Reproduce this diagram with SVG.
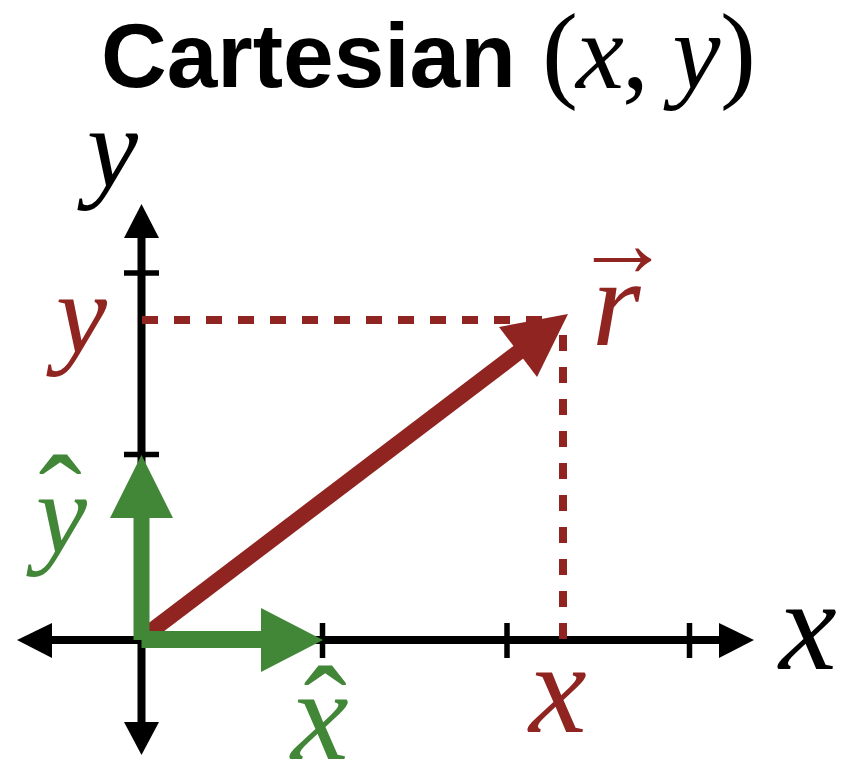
<svg xmlns="http://www.w3.org/2000/svg" width="842" height="760" viewBox="0 0 842 760">
<style>
.title{font-family:"Liberation Sans",Arial,sans-serif;font-weight:bold;font-size:91px;fill:#000}
.m{font-family:"Liberation Serif","Times New Roman",serif;font-style:italic}
.up{font-family:"Liberation Serif","Times New Roman",serif;font-style:normal}
.lx{font-size:130px}
.ly{font-size:115px}
.blk{fill:#000}
.red{fill:#902420}
.grn{fill:#428638}
.axis{stroke:#000;stroke-width:8;fill:none}
.tick{stroke:#000;stroke-width:5.5;fill:none}
.dash{stroke:#902420;stroke-width:8;stroke-dasharray:16 16;fill:none}
</style>
<rect width="842" height="760" fill="#fff"/>
<g id="title">
<text class="title" x="101" y="87">Cartesian</text>
<text class="up" font-size="108" y="87.5"><tspan x="542">(</tspan><tspan class="m" x="576">x</tspan><tspan x="622">,</tspan><tspan class="m" x="672.6">y</tspan><tspan x="720">)</tspan></text>
</g>
<g id="axes">
<line class="axis" x1="141.5" y1="236" x2="141.5" y2="724"/>
<line class="axis" x1="50" y1="640" x2="721" y2="640"/>
<polygon class="blk" points="141.5,204 124,238 159,238"/>
<polygon class="blk" points="141.5,755 124,722 159,722"/>
<polygon class="blk" points="17,640 52,623 52,658"/>
<polygon class="blk" points="754,640 719,623 719,658"/>
<line class="tick" x1="124" y1="273" x2="159" y2="273"/>
<line class="tick" x1="124" y1="454.5" x2="159" y2="454.5"/>
<line class="tick" x1="322.5" y1="623" x2="322.5" y2="658"/>
<line class="tick" x1="507" y1="623" x2="507" y2="658"/>
<line class="tick" x1="689.5" y1="623" x2="689.5" y2="658"/>
</g>
<g id="connectors">
<line class="dash" x1="142" y1="320" x2="563" y2="320"/>
<line class="dash" x1="563" y1="639" x2="563" y2="320"/>
<line stroke="#902420" stroke-width="16" x1="142" y1="638" x2="520" y2="351"/>
<polygon class="red" points="568,314 499,327 537,377"/>
<rect class="grn" x="133.5" y="516" width="16" height="124"/>
<polygon class="grn" points="141.5,455 110,518 173,518"/>
<rect class="grn" x="141.5" y="631" width="122" height="17"/>
<polygon class="grn" points="323,640 261,608 261,672"/>
</g>
<g id="label-y-axis"><text class="m ly blk" x="87" y="187">y</text></g>
<g id="label-x-axis"><text class="m lx blk" x="779" y="669">x</text></g>
<g id="label-y-comp"><text class="m ly red" x="56" y="353">y</text></g>
<g id="label-x-comp"><text class="m lx red" x="529" y="732">x</text></g>
<g id="label-r"><text class="red"><tspan class="up" font-weight="bold" font-size="97" x="574" y="276">→</tspan><tspan class="m" font-size="125" x="592" y="345">r</tspan></text></g>
<g id="label-yhat"><text class="grn"><tspan class="up lx" x="38.6" y="544.6">ˆ</tspan><tspan class="m ly" x="36" y="553">y</tspan></text></g>
<g id="label-xhat"><text class="grn"><tspan class="up lx" x="303.6" y="755.6">ˆ</tspan><tspan class="m lx" x="291" y="759">x</tspan></text></g>
</svg>
